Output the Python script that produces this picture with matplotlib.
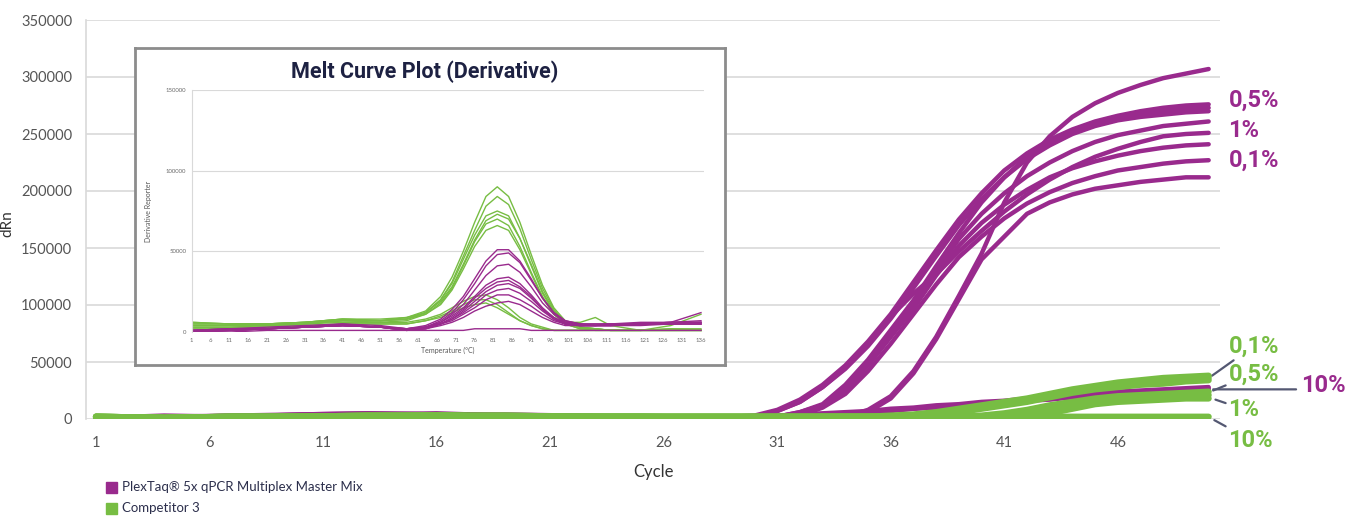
import numpy as np
import matplotlib.pyplot as plt
from matplotlib.patches import Rectangle

plt.rcParams['font.family'] = ['Lato', 'DejaVu Sans']
BOLD = ['Roboto', 'DejaVu Sans']

PURPLE = '#992a8d'
GREEN = '#77bd43'
NAVY = '#1d2142'
GRID = '#d9d9d9'
LINK = '#545872'

# ---------------- main chart: amplification, values in thousands dRn ----------------
cycles = [1, 4, 7, 10, 13, 16, 19, 22, 25, 28, 30, 31, 32, 33, 34, 35, 36, 37, 38, 39,
          40, 41, 42, 43, 44, 45, 46, 47, 48, 49, 50]

plex_p1 = [0, 0, 1, 1, 1, 1, 1, 1, 1, 0, 0, 0, 0, 1, 2, 8, 20, 42, 72, 108,
           145, 190, 225, 248, 265, 277, 286, 293, 299, 303, 307]
plex_p2 = [0, 1, 1, 2, 2, 3, 3, 2, 2, 1, 1, 2, 6, 13, 30, 52, 78, 104, 134, 163,
           190, 212, 230, 243, 252, 258, 263, 267, 270, 272, 273]
plex_p3 = [1, 2, 3, 2, 4, 3, 2, 1, 1, 1, 3, 8, 17, 30, 47, 68, 92, 120, 148, 175,
           198, 218, 233, 245, 254, 261, 266, 270, 273, 275, 276]
plex_p4 = [0, 1, 2, 3, 3, 4, 3, 2, 1, 1, 2, 7, 15, 28, 44, 64, 88, 115, 143, 170,
           193, 212, 228, 240, 250, 257, 262, 265, 267, 269, 270]
plex_p5 = [1, 1, 3, 4, 5, 4, 3, 2, 1, 1, 2, 7, 15, 28, 45, 66, 90, 110, 127, 147,
           165, 182, 197, 210, 221, 230, 237, 243, 248, 250, 251]
plex_p6 = [1, 2, 2, 3, 4, 4, 3, 2, 1, 1, 1, 2, 6, 12, 28, 50, 75, 100, 130, 158,
           180, 198, 213, 225, 235, 243, 249, 253, 257, 259, 261]
plex_p7 = [0, 1, 2, 2, 3, 3, 2, 2, 1, 1, 1, 2, 5, 11, 26, 47, 72, 97, 126, 152,
           172, 188, 201, 212, 220, 226, 231, 235, 238, 240, 241]
plex_p8 = [0, 1, 1, 1, 1, 1, 1, 1, 0, 0, 0, 0, 0, 1, 1, 6, 18, 40, 70, 105,
           140, 160, 180, 190, 197, 202, 205, 208, 210, 212, 212]
plex_p9 = [1, 1, 2, 3, 3, 3, 2, 1, 1, 1, 1, 2, 3, 10, 22, 42, 66, 92, 118, 142,
           160, 176, 189, 199, 207, 213, 218, 221, 224, 226, 227]
plex_10a = [1, 3, 2, 4, 5, 4, 4, 3, 2, 2, 2, 3, 4, 5, 6, 7, 9, 10, 12, 13,
            15, 16, 18, 19, 21, 22, 24, 25, 26, 27, 28]
plex_10b = [0, 2, 1, 3, 4, 5, 3, 2, 2, 1, 2, 2, 3, 4, 5, 6, 8, 9, 11, 12,
            14, 15, 17, 18, 20, 21, 22, 23, 25, 26, 27]
plex_10c = [0, 1, 1, 2, 3, 3, 2, 1, 1, 1, 1, 2, 3, 4, 5, 6, 7, 9, 10, 11,
            13, 14, 16, 17, 19, 20, 21, 22, 24, 25, 26]

comp_g1 = [2, 1, 2, 2, 2, 3, 3, 2, 2, 2, 2, 2, 2, 2, 2, 2, 3, 4, 6, 9,
           12, 15, 18, 22, 26, 29, 32, 34, 36, 37, 38]
comp_g2 = [2, 1, 1, 2, 3, 3, 3, 2, 2, 2, 2, 2, 2, 2, 2, 2, 2, 3, 5, 7,
           10, 13, 17, 21, 25, 28, 30, 32, 34, 35, 36]
comp_g3 = [1, 1, 2, 2, 2, 3, 2, 2, 2, 1, 1, 1, 1, 2, 2, 2, 2, 2, 4, 6,
           9, 12, 15, 19, 23, 26, 28, 30, 31, 33, 34]
comp_g4 = [2, 1, 2, 2, 3, 3, 2, 2, 2, 2, 2, 2, 2, 2, 2, 2, 2, 2, 2, 2,
           3, 5, 8, 12, 15, 18, 20, 21, 22, 23, 24]
comp_g5 = [1, 1, 1, 2, 2, 3, 2, 2, 1, 1, 1, 1, 1, 1, 1, 1, 1, 1, 2, 2,
           2, 3, 5, 9, 13, 16, 18, 19, 20, 21, 21]
comp_g6 = [2, 1, 2, 2, 2, 3, 2, 2, 2, 1, 1, 1, 1, 1, 1, 1, 1, 1, 1, 2,
           2, 2, 3, 5, 9, 13, 15, 16, 17, 18, 18]
comp_g7 = [2, 1, 2, 2, 3, 3, 2, 2, 2, 2, 2, 2, 2, 2, 2, 2, 2, 2, 2, 2,
           2, 2, 2, 2, 2, 2, 2, 2, 2, 2, 2]

plex_curves = [plex_p1, plex_p2, plex_p3, plex_p4, plex_p5, plex_p6, plex_p7, plex_p8, plex_p9,
               plex_10a, plex_10b, plex_10c]
comp_curves = [comp_g1, comp_g2, comp_g3, comp_g4, comp_g5, comp_g6, comp_g7]

x_ticks = [1, 6, 11, 16, 21, 26, 31, 36, 41, 46]
y_ticks = [0, 50000, 100000, 150000, 200000, 250000, 300000, 350000]

# ---------------- inset: melt curve derivative, values in thousands ----------------
temps = [1, 11, 21, 31, 41, 51, 58, 63, 67, 70, 73, 76, 79, 82, 85, 88, 91, 94, 97, 100,
         104, 108, 112, 120, 128, 136]

melt_green = [
    [6, 5, 5, 6, 8, 7, 9, 13, 22, 34, 50, 68, 84, 90, 84, 68, 48, 29, 15, 7, 3, 2, 1, 1, 1, 1],
    [5, 5, 5, 6, 8, 7, 8, 12, 20, 31, 47, 63, 78, 84, 79, 64, 45, 27, 14, 6, 3, 2, 1, 1, 1, 1],
    [4, 4, 4, 5, 7, 7, 8, 12, 20, 30, 45, 60, 72, 75, 72, 58, 41, 24, 12, 6, 3, 2, 1, 1, 1, 1],
    [6, 5, 5, 6, 8, 8, 9, 12, 19, 28, 42, 57, 69, 73, 70, 58, 42, 25, 13, 6, 6, 9, 4, 1, 2, 1],
    [3, 3, 4, 5, 7, 6, 7, 11, 18, 27, 41, 56, 67, 70, 66, 53, 37, 22, 11, 5, 2, 2, 1, 1, 1, 1],
    [5, 5, 5, 6, 7, 7, 8, 11, 17, 26, 39, 53, 63, 66, 63, 51, 36, 21, 11, 5, 2, 1, 1, 1, 4, 11],
    [4, 4, 4, 5, 6, 6, 6, 8, 11, 15, 19, 22, 23, 20, 15, 9, 5, 3, 1, 1, 1, 1, 1, 1, 2, 2],
    [3, 3, 3, 4, 5, 5, 5, 7, 10, 13, 17, 20, 20, 17, 12, 7, 4, 2, 1, 1, 1, 1, 1, 1, 1, 1],
    [2, 2, 3, 4, 5, 5, 5, 7, 9, 12, 15, 17, 18, 15, 11, 7, 4, 2, 1, 1, 1, 1, 1, 1, 1, 1],
]
melt_purple = [
    [1, 2, 2, 3, 4, 3, 2, 4, 8, 14, 22, 33, 44, 51, 51, 44, 33, 21, 12, 7, 5, 5, 5, 5, 6, 6],
    [0, 1, 2, 3, 5, 3, 1, 3, 7, 12, 20, 30, 41, 48, 49, 43, 32, 21, 12, 7, 5, 5, 5, 6, 6, 7],
    [1, 1, 2, 3, 4, 3, 2, 3, 6, 11, 17, 26, 35, 41, 42, 37, 28, 18, 11, 6, 5, 4, 5, 5, 6, 6],
    [1, 2, 3, 4, 5, 4, 2, 3, 6, 10, 15, 22, 29, 33, 34, 30, 23, 15, 9, 6, 4, 4, 4, 5, 5, 5],
    [0, 1, 2, 3, 4, 3, 1, 2, 5, 9, 14, 21, 27, 31, 32, 28, 22, 14, 9, 5, 4, 4, 4, 5, 5, 5],
    [1, 1, 2, 3, 4, 3, 2, 3, 5, 8, 13, 19, 25, 29, 30, 27, 21, 14, 8, 5, 4, 4, 5, 5, 5, 6],
    [0, 1, 2, 3, 4, 3, 1, 2, 5, 8, 12, 17, 23, 26, 27, 24, 19, 13, 8, 5, 4, 4, 4, 4, 5, 5],
    [1, 2, 2, 3, 4, 3, 2, 3, 5, 7, 11, 15, 20, 23, 23, 20, 16, 11, 7, 5, 4, 4, 4, 5, 5, 5],
    [0, 1, 2, 3, 4, 3, 1, 2, 4, 6, 9, 13, 16, 18, 19, 17, 13, 9, 6, 4, 4, 4, 4, 5, 6, 12],
    [0, 0, 1, 1, 1, 1, 1, 1, 1, 1, 1, 2, 2, 2, 2, 2, 1, 1, 1, 1, 1, 1, 1, 1, 1, 1],
]
melt_x_ticks = list(range(1, 137, 5))
melt_y_ticks = [0, 50000, 100000, 150000]

W, H = 1354, 518
fig = plt.figure(figsize=(W / 100, H / 100), dpi=100)

# main axes
ax = fig.add_axes([86 / W, 1 - 419 / H, (1220 - 86) / W, (419 - 20) / H])
for c in plex_curves:
    ax.plot(cycles, np.array(c) * 1000, color=PURPLE, lw=3.2, solid_capstyle='round', zorder=3)
for c in comp_curves:
    ax.plot(cycles, np.array(c) * 1000, color=GREEN, lw=4.5, solid_capstyle='round', zorder=4)

ax.set_xlim(0.56, 50.5)
ax.set_ylim(0, 350000)
ax.set_xticks(x_ticks)
ax.set_yticks(y_ticks)
ax.set_yticklabels([str(v) for v in y_ticks])
ax.tick_params(length=0, labelsize=10.5, labelcolor='#555555')
ax.tick_params(axis='x', pad=12)
ax.tick_params(axis='y', pad=10)
ax.grid(axis='y', color=GRID, lw=1.2)
ax.set_axisbelow(True)
for s in ['top', 'right', 'bottom']:
    ax.spines[s].set_visible(False)
ax.spines['left'].set_color(GRID)
ax.spines['left'].set_linewidth(1.2)
ax.set_xlabel('Cycle', fontsize=12, color='#333333', labelpad=10)
ax.set_ylabel('dRn', fontsize=11, color='#333333')
ax.yaxis.set_label_coords(-0.063, 0.49)

# labels at the right end of the curves
lab = dict(fontsize=17, fontweight='bold', family=BOLD, va='center', ha='left')
ax.text(50.87, 280000, '0,5%', color=PURPLE, **lab)
ax.text(50.87, 253500, '1%', color=PURPLE, **lab)
ax.text(50.87, 227000, '0,1%', color=PURPLE, **lab)

line = dict(arrowstyle='-', color=LINK, lw=1.6, shrinkA=0, shrinkB=0)
ax.annotate('0,1%', xy=(50.15, comp_g1[-1] * 1000), xytext=(50.87, 64000), color=GREEN,
            arrowprops=line, annotation_clip=False, **lab)
ax.annotate('0,5%', xy=(50.2, comp_g2[-1] * 1000 - 11000), xytext=(50.87, 39500), color=GREEN,
            arrowprops=line, annotation_clip=False, **lab)
ax.annotate('1%', xy=(50.3, comp_g5[-1] * 1000 - 4000), xytext=(50.87, 8500), color=GREEN,
            arrowprops=line, annotation_clip=False, **lab)
ax.annotate('10%', xy=(50.25, comp_g7[-1] * 1000 - 3000), xytext=(50.87, -18500), color=GREEN,
            arrowprops=line, annotation_clip=False, **lab)
ax.annotate('', xy=(50.2, plex_10b[-1] * 1000 - 1000), xytext=(53.85, plex_10b[-1] * 1000 - 1000),
            arrowprops=line, annotation_clip=False)
ax.text(54.05, 29000, '10%', color=PURPLE, **lab)

# legend
fig.patches.append(Rectangle((106 / W, 1 - 493 / H), 11 / W, 11 / H, transform=fig.transFigure,
                             color=PURPLE))
fig.patches.append(Rectangle((106 / W, 1 - 514 / H), 11 / W, 11 / H, transform=fig.transFigure,
                             color=GREEN))
fig.text(122 / W, 1 - 487 / H, 'PlexTaq® 5x qPCR Multiplex Master Mix', fontsize=9.5,
         color='#2c2f4c', va='center')
fig.text(122 / W, 1 - 508 / H, 'Competitor 3', fontsize=9.5, color='#2c2f4c', va='center')

# inset frame
box = fig.add_axes([135 / W, 1 - 365 / H, (725 - 135) / W, (365 - 48) / H])
box.set_xticks([])
box.set_yticks([])
for s in box.spines.values():
    s.set_color('#8c8c8c')
    s.set_linewidth(2)
box.set_zorder(5)
fig.text(425 / W, 1 - 72 / H, 'Melt Curve Plot (Derivative)', fontsize=15.5, fontweight='bold',
         family=BOLD, color=NAVY, ha='center', va='center', zorder=7)

# inset plot
ins = fig.add_axes([191.7 / W, 1 - 332 / H, (704 - 191.7) / W, (332 - 90) / H])
ins.set_zorder(6)
ins.patch.set_alpha(0)
for c in melt_green:
    ins.plot(temps, np.array(c) * 1000, color=GREEN, lw=1.0)
for c in melt_purple:
    ins.plot(temps, np.array(c) * 1000, color=PURPLE, lw=1.0)
ins.set_xlim(1, 136.8)
ins.set_ylim(0, 150000)
ins.set_xticks(melt_x_ticks)
ins.set_yticks(melt_y_ticks)
ins.set_yticklabels([str(v) for v in melt_y_ticks])
ins.tick_params(length=0, labelsize=4.3, labelcolor='#6a6a6a', pad=4)
ins.grid(axis='y', color=GRID, lw=0.8)
ins.set_axisbelow(True)
for s in ['top', 'right', 'bottom']:
    ins.spines[s].set_visible(False)
ins.spines['left'].set_color(GRID)
ins.spines['left'].set_linewidth(0.8)
ins.set_xlabel('Temperature (°C)', fontsize=5, color='#555555', labelpad=3)
ins.set_ylabel('Derivative Reporter', fontsize=5, color='#555555', labelpad=10)

fig.savefig('out.png', dpi=100)
